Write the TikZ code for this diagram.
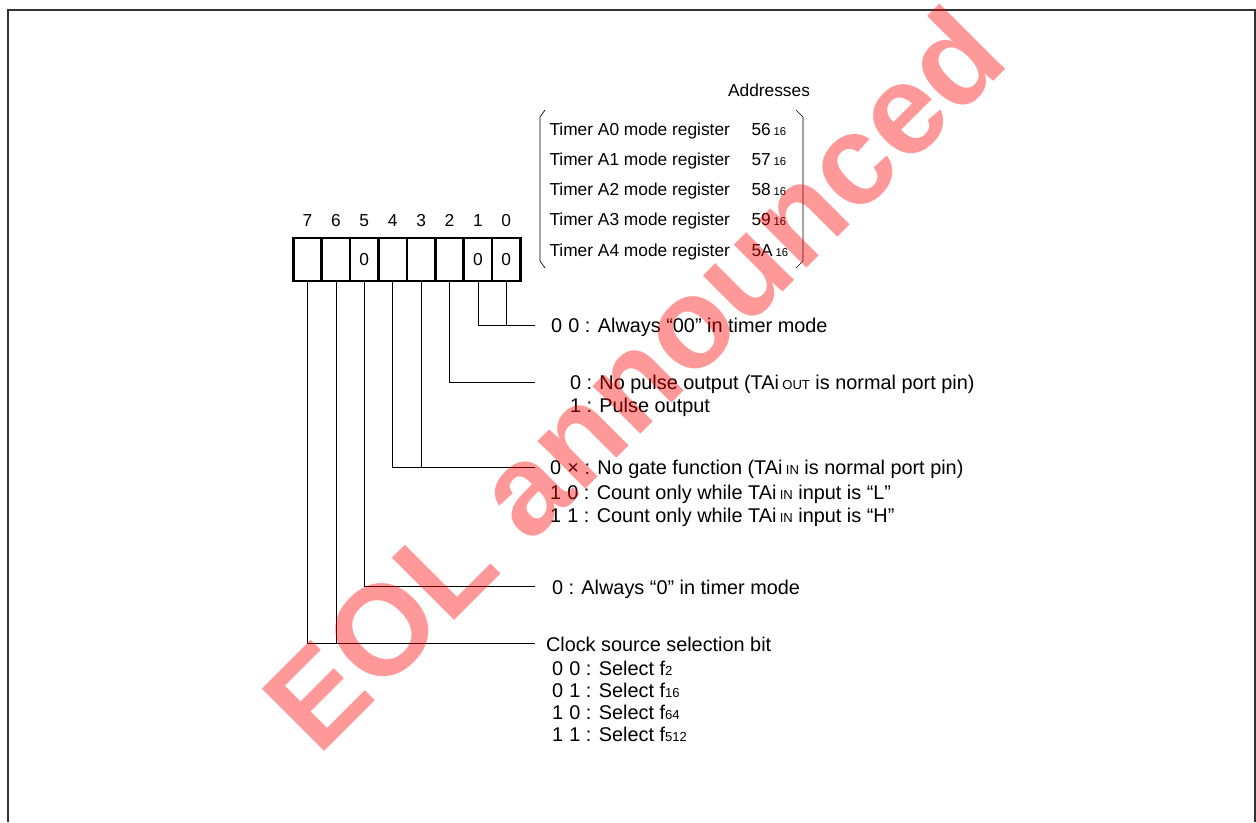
\documentclass[tikz,border=0pt]{standalone}
\usepackage{fontspec}
\setmainfont{Liberation Sans}
\newcommand{\sm}[1]{{\fontsize{8.5}{9}\selectfont #1}}
\newcommand{\smb}[1]{{\fontsize{9.8}{10}\selectfont #1}}
\newcommand{\gp}{\hspace{0.32em}}
\begin{document}
\begin{tikzpicture}[x=0.75pt,y=-0.75pt,
  every node/.style={inner sep=0pt, outer sep=0pt, font=\fontsize{13}{15.6}\selectfont},
  cell/.style={draw, line width=2pt, minimum width=21.3pt, minimum height=32.3pt},
  txt/.style={anchor=base west},
  desc/.style={anchor=base west, font=\fontsize{14.9}{17}\selectfont},
  wire/.style={line width=0.6pt},
  frameline/.style={line width=1.5pt, draw=black!80},
  brk/.style={line width=0.5pt},
  wmark/.style={anchor=base west, rotate=45, text=red, opacity=0.4,
    font=\fontsize{96}{96}\selectfont\bfseries}
]
\useasboundingbox (0,0) rectangle (1256,822);
% frame
\draw[frameline] (8,822) -- (8,10) -- (1255,10) -- (1255,822);

% register cells
\node[cell] (c7) at (307.5,259.5) {};
\node[cell] (c6) at (335.9,259.5) {};
\node[cell] (c5) at (364.3,259.5) {0};
\node[cell] (c4) at (392.7,259.5) {};
\node[cell] (c3) at (421.1,259.5) {};
\node[cell] (c2) at (449.5,259.5) {};
\node[cell] (c1) at (477.9,259.5) {0};
\node[cell] (c0) at (506.3,259.5) {0};

% bit numbers
\node[anchor=base] (n7) at (307.5,226) {7};
\node[anchor=base] (n6) at (335.9,226) {6};
\node[anchor=base] (n5) at (364.3,226) {5};
\node[anchor=base] (n4) at (392.7,226) {4};
\node[anchor=base] (n3) at (421.1,226) {3};
\node[anchor=base] (n2) at (449.5,226) {2};
\node[anchor=base] (n1) at (477.9,226) {1};
\node[anchor=base] (n0) at (506.3,226) {0};

% addresses
\node[anchor=base] (addr) at (769,96) {Addresses};
\draw[brk] (545,110) -- (540,117) -- (540,261) -- (545,268);
\draw[brk] (796,110) -- (803,117) -- (803,261) -- (796,268);
\node[txt] (r0) at (549.5,135.5) {Timer A0 mode register};
\node[txt] (r1) at (549.5,165) {Timer A1 mode register};
\node[txt] (r2) at (549.5,195) {Timer A2 mode register};
\node[txt] (r3) at (549.5,225) {Timer A3 mode register};
\node[txt] (r4) at (549.5,256) {Timer A4 mode register};
\node[txt] (a0) at (751.5,135.5) {56\,\sm{16}};
\node[txt] (a1) at (751.5,165) {57\,\sm{16}};
\node[txt] (a2) at (751.5,195) {58\,\sm{16}};
\node[txt] (a3) at (751.5,225) {59\,\sm{16}};
\node[txt] (a4) at (751.5,256) {5A\,\sm{16}};

% line end points
\coordinate (e10) at (535,325);
\coordinate (e2) at (535,382);
\coordinate (e43) at (535,467);
\coordinate (e5) at (535,586);
\coordinate (e76) at (535,643);

% descriptions
\node[desc] (t10) at (551,332) {0\gp0 : Always “00” in timer mode};
\node[desc] (t2a) at (570,389) {0 : No pulse output (TAi\,\smb{OUT} is normal port pin)};
\node[desc] (t2b) at (570,412) {1 : Pulse output};
\node[desc] (t43a) at (550,474) {0\gp× : No gate function (TAi\,\smb{IN} is normal port pin)};
\node[desc] (t43b) at (550,499) {1\gp0 : Count only while TAi\,\smb{IN} input is “L”};
\node[desc] (t43c) at (550,522) {1\gp1 : Count only while TAi\,\smb{IN} input is “H”};
\node[desc] (t5) at (552,594) {0 : Always “0” in timer mode};
\node[desc] (t76) at (546,651) {Clock source selection bit};
\node[desc] (t76a) at (552,675) {0\gp0 : Select f\smb{2}};
\node[desc] (t76b) at (552,697) {0\gp1 : Select f\smb{16}};
\node[desc] (t76c) at (552,719) {1\gp0 : Select f\smb{64}};
\node[desc] (t76d) at (552,741) {1\gp1 : Select f\smb{512}};

% connectors
\draw[wire] (c1.south) |- (e10);
\draw[wire] (c0.south) -- (c0.south |- e10);
\draw[wire] (c2.south) |- (e2);
\draw[wire] (c4.south) |- (e43);
\draw[wire] (c3.south) -- (c3.south |- e43);
\draw[wire] (c5.south) |- (e5);
\draw[wire] (c7.south) |- (e76);
\draw[wire] (c6.south) -- (c6.south |- e76);

% watermark
\node[wmark] (wm) at (318,757) {EOL announced};
\end{tikzpicture}
\end{document}
